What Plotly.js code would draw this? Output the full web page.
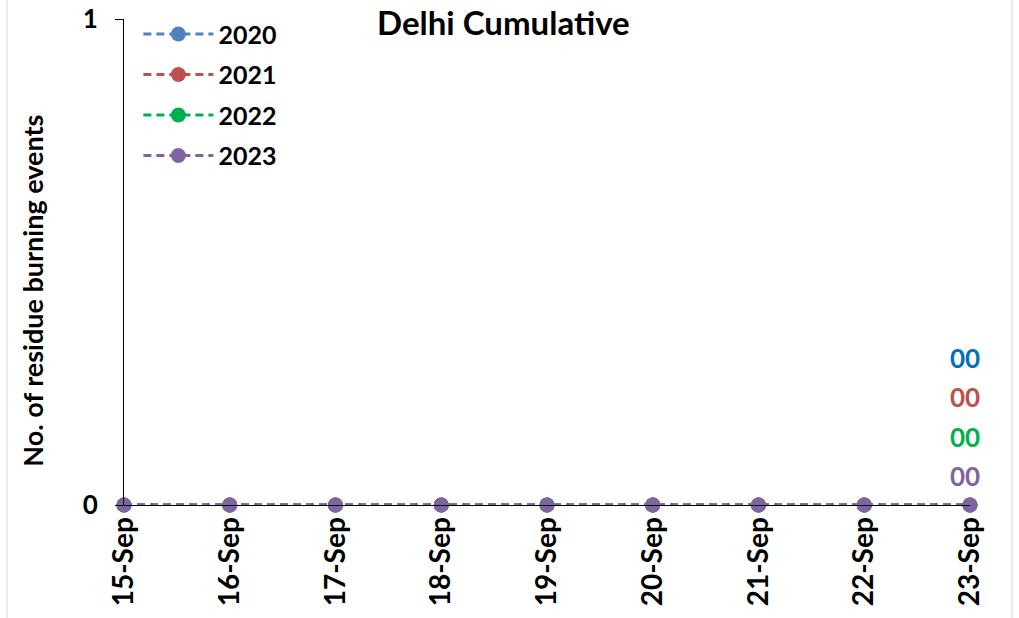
<!DOCTYPE html>
<html><head><meta charset="utf-8">
<script src="https://cdn.plot.ly/plotly-3.0.1.min.js"></script>
<style>html,body{margin:0;padding:0;background:#fff}#chart{width:1019px;height:618px}</style>
</head><body><div id="chart"></div>
<script>
const dates = ['15-Sep','16-Sep','17-Sep','18-Sep','19-Sep','20-Sep','21-Sep','22-Sep','23-Sep'];
const y2020 = [0,0,0,0,0,0,0,0,0];
const y2021 = [0,0,0,0,0,0,0,0,0];
const y2022 = [0,0,0,0,0,0,0,0,0];
const y2023 = [0,0,0,0,0,0,0,0,0];
const seriesNames = ['2020','2021','2022','2023'];
const lineColors = ['#4F81BD','#C0504D','#00B050','#8064A2'];
const labelColors = ['#0070C0','#C0504D','#00B050','#8064A2'];
const lastLabels = ['00','00','00','00'];
const FONT = 'Lato, "Open Sans", sans-serif';
const series = [y2020,y2021,y2022,y2023];
const traces = series.map((ys,i)=>({
  x: dates, y: ys, name: seriesNames[i], legendgroup:'g'+i, type:'scatter', mode:'lines+markers',
  line:{color:lineColors[i], width:3, dash:'8px,5px'},
  marker:{color:lineColors[i], size:15},
  cliponaxis:false
}));
const shifts = [147,108,68,29];
const annotations = lastLabels.map((t,i)=>({
  x: dates[dates.length-1], y: series[i][series[i].length-1], xref:'x', yref:'y',
  text:'<b>'+t+'</b>', showarrow:false, yshift:shifts[i], xshift:-5,
  font:{family:FONT, size:26, color:labelColors[i]}
}));
annotations.push({xref:'paper', yref:'paper', x:0.448, y:1.037, yanchor:'top', showarrow:false, borderpad:0,
  text:'<b>Delhi Cumulative</b>', font:{family:FONT, size:33, color:'#000'}});
annotations.push({xref:'paper', yref:'paper', x:-0.1076, y:0.441, xanchor:'center', yanchor:'middle', showarrow:false,
  textangle:-90, text:'<b>No. of residue burning events</b>', font:{family:FONT, size:27, color:'#000'}});
const layout = {
  width:1019, height:618,
  margin:{l:124, r:49, t:18, b:113, pad:0},
  paper_bgcolor:'#fff', plot_bgcolor:'#fff',
  showlegend:true,
  legend:{x:0.017, y:1.014, xanchor:'left', yanchor:'top', bgcolor:'rgba(0,0,0,0)',
    font:{family:FONT, size:25, color:'#000', weight:'bold'}, itemwidth:70, tracegroupgap:5},
  xaxis:{type:'category', range:[0,8], showline:true, linecolor:'#000', linewidth:1,
    showgrid:false, zeroline:false, ticks:'', tickangle:-90,
    tickfont:{family:FONT, size:28, color:'#000', weight:'bold'}},
  yaxis:{range:[0,1], tickvals:[0,1], ticktext:['<b>0</b>','<b>1</b>'], showline:true, linecolor:'#000', linewidth:1,
    showgrid:false, zeroline:false, ticks:'outside', ticklen:8, tickcolor:'#000',
    tickfont:{family:FONT, size:26, color:'#000'}, ticklabelstandoff:12},
  annotations: annotations,
  shapes:[
    {type:'line', xref:'paper', yref:'paper', x0:-0.1383, x1:-0.1383, y0:-0.3, y1:1.1, line:{color:'#D9D9D9', width:1}},
    {type:'line', xref:'paper', yref:'paper', x0:1.0496, x1:1.0496, y0:-0.3, y1:1.1, line:{color:'#D9D9D9', width:1}}
  ]
};
Plotly.newPlot('chart', traces, layout, {displayModeBar:false});
</script></body></html>
